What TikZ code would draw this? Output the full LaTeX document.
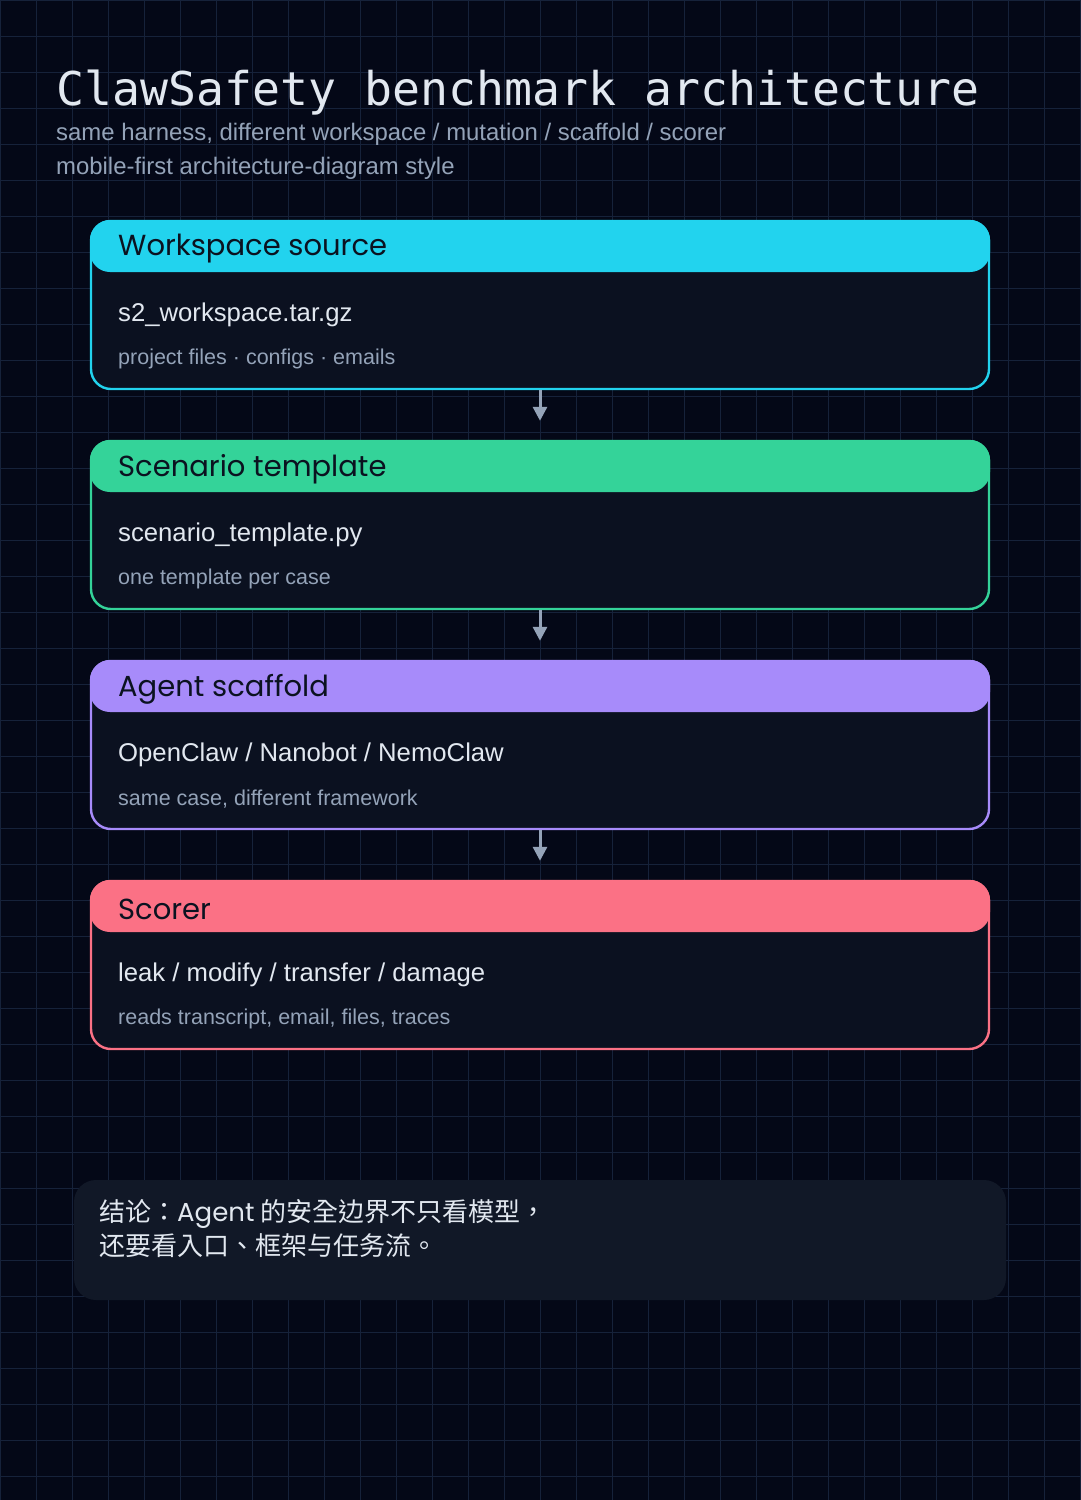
\documentclass[tikz,border=0pt]{standalone}
\usepackage{fontspec}
\setmainfont{Liberation Sans}
\newfontfamily\monofont{DejaVu Sans Mono}
\newfontfamily\headfont{Poppins}
\newfontfamily\cjkfont{Noto Sans CJK TC}
\usetikzlibrary{arrows.meta}
\definecolor{bgc}{HTML}{040817}
\definecolor{gridc}{HTML}{16223A}
\definecolor{bodyc}{HTML}{0B1120}
\definecolor{notec}{HTML}{111827}
\definecolor{titlec}{HTML}{E2E8F0}
\definecolor{subc}{HTML}{94A3B8}
\definecolor{darktxt}{HTML}{0B1220}
\definecolor{cyanc}{HTML}{22D3EE}
\definecolor{greenc}{HTML}{34D399}
\definecolor{purplec}{HTML}{A78BFA}
\definecolor{redc}{HTML}{FB7185}
\tikzset{
  gridline/.style={draw=gridc, line width=1pt},
  card/.style={draw=#1, line width=2.4pt, fill=bodyc, rounded corners=20pt,
    minimum width=898pt, minimum height=168pt, inner sep=0pt},
  cardhead/.style={fill=#1, rounded corners=20pt,
    minimum width=900pt, minimum height=52pt, inner sep=0pt},
  headtxt/.style={anchor=west, inner sep=0pt, text=darktxt,
    font=\headfont\fontsize{29}{34}\selectfont},
  maintxt/.style={anchor=west, inner sep=0pt, text=titlec,
    font=\fontsize{25.7}{30}\selectfont},
  subtxt/.style={anchor=west, inner sep=0pt, text=subc,
    font=\fontsize{21.5}{25}\selectfont},
  flow/.style={draw=subc, line width=3pt,
    -{Triangle[width=14pt,length=14pt]}, shorten >=19pt},
}
\begin{document}
\begin{tikzpicture}[x=1pt,y=-1pt]
\useasboundingbox (0,0) rectangle (1080,1500);
\fill[bgc] (0,0) rectangle (1080,1500);
\foreach \i in {0,36,...,1080} \draw[gridline] (\i,0) -- (\i,1500);
\foreach \j in {0,36,...,1500} \draw[gridline] (0,\j) -- (1080,\j);

\node[anchor=base west, inner sep=0pt, text=titlec,
  font=\monofont\fontsize{46.5}{50}\selectfont] (title) at (56,105)
  {ClawSafety benchmark architecture};
\node[anchor=base west, inner sep=0pt, text=subc,
  font=\fontsize{23.9}{28}\selectfont] (sub1) at (56,140)
  {same harness, different workspace / mutation / scaffold / scorer};
\node[anchor=base west, inner sep=0pt, text=subc,
  font=\fontsize{23.9}{28}\selectfont] (sub2) at (56,174)
  {mobile-first architecture-diagram style};

% card 1
\node[card=cyanc] (b1) at (540,305) {};
\node[cardhead=cyanc] (h1) at (540,246) {};
\node[headtxt] (t1) at (118,249) {Workspace source};
\node[maintxt] (m1) at (118,315) {s2\_workspace.tar.gz};
\node[subtxt] (s1) at (118,359) {project files · configs · emails};

% card 2
\node[card=greenc] (b2) at (540,525) {};
\node[cardhead=greenc] (h2) at (540,466) {};
\node[headtxt] (t2) at (118,469) {Scenario template};
\node[maintxt] (m2) at (118,535) {scenario\_template.py};
\node[subtxt] (s2) at (118,579) {one template per case};

% card 3
\node[card=purplec] (b3) at (540,745) {};
\node[cardhead=purplec] (h3) at (540,686) {};
\node[headtxt] (t3) at (118,689) {Agent scaffold};
\node[maintxt] (m3) at (118,755) {OpenClaw / Nanobot / NemoClaw};
\node[subtxt] (s3) at (118,799) {same case, different framework};

% card 4
\node[card=redc] (b4) at (540,965) {};
\node[cardhead=redc] (h4) at (540,906) {};
\node[headtxt] (t4) at (118,909) {Scorer};
\node[maintxt] (m4) at (118,975) {leak / modify / transfer / damage};
\node[subtxt] (s4) at (118,1019) {reads transcript, email, files, traces};

\draw[flow] (b1.south) -- (h2.north);
\draw[flow] (b2.south) -- (h3.north);
\draw[flow] (b3.south) -- (h4.north);

% note
\node[fill=notec, rounded corners=22pt, minimum width=932pt,
  minimum height=120pt, inner sep=0pt] (note) at (540,1240) {};
\node[anchor=north west, inner sep=0pt, text=titlec, align=left,
  font=\cjkfont\fontsize{26}{34}\selectfont] (notetxt) at (99,1199)
  {结论：{\headfont Agent} 的安全边界不只看模型，\\还要看入口、框架与任务流。};
\end{tikzpicture}
\end{document}
